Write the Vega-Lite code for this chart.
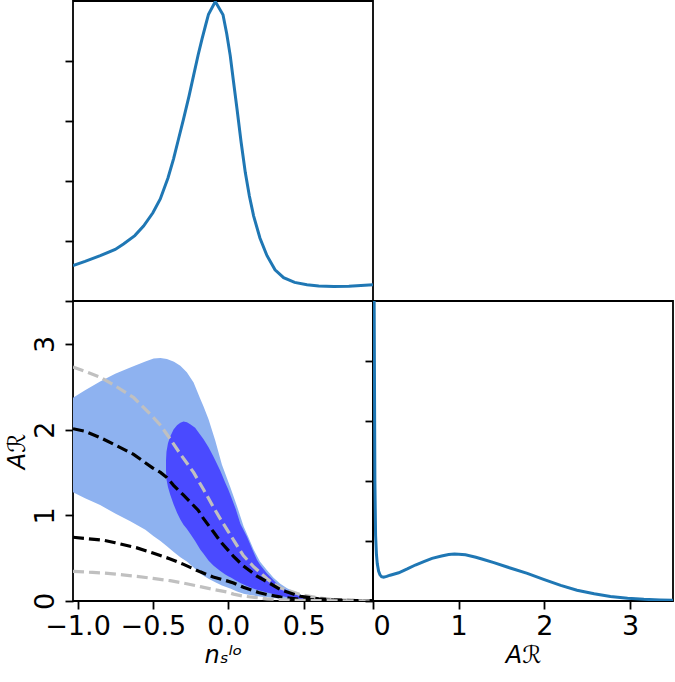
{
  "$schema": "https://vega.github.io/schema/vega-lite/v6.json",
  "padding": {"left": 4, "top": 0, "right": 0, "bottom": 0},
  "background": "white",
  "config": {
    "font": "DejaVu Sans",
    "view": {"stroke": "black", "strokeWidth": 1.8},
    "axis": {
      "domain": false, "grid": false,
      "tickColor": "black", "tickWidth": 1.8, "tickSize": 8,
      "labelFontSize": 27, "labelColor": "black", "labelFont": "DejaVu Sans",
      "titleFontSize": 24, "titleFontWeight": "normal", "titleColor": "black", "titleFont": "DejaVu Sans"
    }
  },
  "datasets": {
    "top": [
      {"n": -1.03, "p": 0.59}, {"n": -0.95, "p": 0.66}, {"n": -0.849, "p": 0.755}, {"n": -0.75, "p": 0.86},
      {"n": -0.695, "p": 0.95}, {"n": -0.62, "p": 1.09}, {"n": -0.562, "p": 1.25}, {"n": -0.5, "p": 1.47},
      {"n": -0.451, "p": 1.7}, {"n": -0.4, "p": 2.05}, {"n": -0.363, "p": 2.37}, {"n": -0.33, "p": 2.7},
      {"n": -0.297, "p": 3.03}, {"n": -0.26, "p": 3.42}, {"n": -0.23, "p": 3.76}, {"n": -0.2, "p": 4.1},
      {"n": -0.174, "p": 4.37}, {"n": -0.15, "p": 4.6}, {"n": -0.131, "p": 4.78}, {"n": -0.086, "p": 4.99},
      {"n": -0.035, "p": 4.77}, {"n": -0.01, "p": 4.45}, {"n": 0.013, "p": 4.09}, {"n": 0.035, "p": 3.65},
      {"n": 0.058, "p": 3.2}, {"n": 0.085, "p": 2.65}, {"n": 0.113, "p": 2.14}, {"n": 0.14, "p": 1.75},
      {"n": 0.168, "p": 1.42}, {"n": 0.21, "p": 1.05}, {"n": 0.257, "p": 0.755}, {"n": 0.31, "p": 0.52},
      {"n": 0.367, "p": 0.39}, {"n": 0.44, "p": 0.31}, {"n": 0.522, "p": 0.27}, {"n": 0.6, "p": 0.25},
      {"n": 0.699, "p": 0.24}, {"n": 0.8, "p": 0.245}, {"n": 0.96, "p": 0.27}
    ],
    "outer": [
      {"n": -1.03, "lo": 1.27, "hi": 2.37}, {"n": -0.95, "lo": 1.2, "hi": 2.46}, {"n": -0.85, "lo": 1.12, "hi": 2.56},
      {"n": -0.75, "lo": 1.02, "hi": 2.65}, {"n": -0.65, "lo": 0.93, "hi": 2.725}, {"n": -0.55, "lo": 0.83, "hi": 2.795},
      {"n": -0.495, "lo": 0.756, "hi": 2.83}, {"n": -0.45, "lo": 0.7, "hi": 2.835}, {"n": -0.407, "lo": 0.64, "hi": 2.822},
      {"n": -0.36, "lo": 0.57, "hi": 2.79}, {"n": -0.318, "lo": 0.51, "hi": 2.744}, {"n": -0.275, "lo": 0.46, "hi": 2.67},
      {"n": -0.23, "lo": 0.39, "hi": 2.55}, {"n": -0.186, "lo": 0.32, "hi": 2.36}, {"n": -0.164, "lo": 0.295, "hi": 2.27},
      {"n": -0.131, "lo": 0.26, "hi": 2.12}, {"n": -0.086, "lo": 0.22, "hi": 1.87}, {"n": -0.042, "lo": 0.18, "hi": 1.59},
      {"n": 0.013, "lo": 0.145, "hi": 1.33}, {"n": 0.058, "lo": 0.11, "hi": 1.106}, {"n": 0.102, "lo": 0.085, "hi": 0.87},
      {"n": 0.135, "lo": 0.072, "hi": 0.737}, {"n": 0.168, "lo": 0.063, "hi": 0.6}, {"n": 0.21, "lo": 0.053, "hi": 0.46},
      {"n": 0.257, "lo": 0.045, "hi": 0.36}, {"n": 0.3, "lo": 0.035, "hi": 0.27}, {"n": 0.345, "lo": 0.025, "hi": 0.2},
      {"n": 0.39, "lo": 0.017, "hi": 0.15}, {"n": 0.456, "lo": 0.009, "hi": 0.094}, {"n": 0.5, "lo": 0.005, "hi": 0.06},
      {"n": 0.544, "lo": 0.003, "hi": 0.035}, {"n": 0.59, "lo": 0.001, "hi": 0.015}, {"n": 0.63, "lo": 0.0, "hi": 0.003}
    ],
    "inner": [
      {"n": -0.413, "lo": 1.52, "hi": 1.64}, {"n": -0.41, "lo": 1.42, "hi": 1.74}, {"n": -0.4, "lo": 1.33, "hi": 1.84},
      {"n": -0.385, "lo": 1.24, "hi": 1.92}, {"n": -0.363, "lo": 1.13, "hi": 2.0}, {"n": -0.34, "lo": 1.03, "hi": 2.05},
      {"n": -0.318, "lo": 0.95, "hi": 2.08}, {"n": -0.297, "lo": 0.89, "hi": 2.093}, {"n": -0.274, "lo": 0.84, "hi": 2.085},
      {"n": -0.25, "lo": 0.78, "hi": 2.06}, {"n": -0.22, "lo": 0.7, "hi": 2.02}, {"n": -0.186, "lo": 0.6, "hi": 1.94},
      {"n": -0.164, "lo": 0.55, "hi": 1.887}, {"n": -0.13, "lo": 0.47, "hi": 1.79}, {"n": -0.097, "lo": 0.41, "hi": 1.68},
      {"n": -0.053, "lo": 0.35, "hi": 1.52}, {"n": -0.02, "lo": 0.31, "hi": 1.38}, {"n": 0.0, "lo": 0.29, "hi": 1.3},
      {"n": 0.02, "lo": 0.27, "hi": 1.21}, {"n": 0.05, "lo": 0.24, "hi": 1.07}, {"n": 0.08, "lo": 0.21, "hi": 0.9},
      {"n": 0.124, "lo": 0.175, "hi": 0.75}, {"n": 0.16, "lo": 0.15, "hi": 0.6}, {"n": 0.19, "lo": 0.13, "hi": 0.48},
      {"n": 0.212, "lo": 0.12, "hi": 0.42}, {"n": 0.257, "lo": 0.1, "hi": 0.32}, {"n": 0.323, "lo": 0.07, "hi": 0.2},
      {"n": 0.39, "lo": 0.045, "hi": 0.12}, {"n": 0.456, "lo": 0.025, "hi": 0.07}, {"n": 0.5, "lo": 0.015, "hi": 0.045},
      {"n": 0.544, "lo": 0.008, "hi": 0.022}, {"n": 0.58, "lo": 0.004, "hi": 0.006}
    ],
    "curves": [
      {"c": "gray_hi", "n": -1.03, "A": 2.73}, {"c": "gray_hi", "n": -0.95, "A": 2.68}, {"c": "gray_hi", "n": -0.849, "A": 2.61},
      {"c": "gray_hi", "n": -0.75, "A": 2.51}, {"c": "gray_hi", "n": -0.628, "A": 2.374}, {"c": "gray_hi", "n": -0.517, "A": 2.18},
      {"c": "gray_hi", "n": -0.45, "A": 2.05}, {"c": "gray_hi", "n": -0.385, "A": 1.89}, {"c": "gray_hi", "n": -0.32, "A": 1.72},
      {"c": "gray_hi", "n": -0.23, "A": 1.5}, {"c": "gray_hi", "n": -0.164, "A": 1.3}, {"c": "gray_hi", "n": -0.1, "A": 1.1},
      {"c": "gray_hi", "n": -0.05, "A": 0.95}, {"c": "gray_hi", "n": 0.0, "A": 0.81}, {"c": "gray_hi", "n": 0.05, "A": 0.67},
      {"c": "gray_hi", "n": 0.1, "A": 0.53}, {"c": "gray_hi", "n": 0.168, "A": 0.4}, {"c": "gray_hi", "n": 0.257, "A": 0.26},
      {"c": "gray_hi", "n": 0.3, "A": 0.2}, {"c": "gray_hi", "n": 0.35, "A": 0.15}, {"c": "gray_hi", "n": 0.478, "A": 0.075},
      {"c": "gray_hi", "n": 0.6, "A": 0.035}, {"c": "gray_hi", "n": 0.7, "A": 0.015}, {"c": "gray_hi", "n": 0.85, "A": 0.005},
      {"c": "gray_hi", "n": 0.96, "A": 0.002},
      {"c": "black_hi", "n": -1.03, "A": 2.01}, {"c": "black_hi", "n": -0.95, "A": 1.98}, {"c": "black_hi", "n": -0.849, "A": 1.906},
      {"c": "black_hi", "n": -0.75, "A": 1.82}, {"c": "black_hi", "n": -0.628, "A": 1.711}, {"c": "black_hi", "n": -0.5, "A": 1.55},
      {"c": "black_hi", "n": -0.45, "A": 1.5}, {"c": "black_hi", "n": -0.407, "A": 1.44}, {"c": "black_hi", "n": -0.363, "A": 1.35},
      {"c": "black_hi", "n": -0.3, "A": 1.24}, {"c": "black_hi", "n": -0.25, "A": 1.15}, {"c": "black_hi", "n": -0.2, "A": 1.06},
      {"c": "black_hi", "n": -0.164, "A": 0.96}, {"c": "black_hi", "n": -0.1, "A": 0.81}, {"c": "black_hi", "n": -0.05, "A": 0.69},
      {"c": "black_hi", "n": 0.0, "A": 0.59}, {"c": "black_hi", "n": 0.035, "A": 0.52}, {"c": "black_hi", "n": 0.1, "A": 0.41},
      {"c": "black_hi", "n": 0.19, "A": 0.29}, {"c": "black_hi", "n": 0.257, "A": 0.225}, {"c": "black_hi", "n": 0.35, "A": 0.13},
      {"c": "black_hi", "n": 0.478, "A": 0.055}, {"c": "black_hi", "n": 0.6, "A": 0.025}, {"c": "black_hi", "n": 0.7, "A": 0.012},
      {"c": "black_hi", "n": 0.85, "A": 0.004}, {"c": "black_hi", "n": 0.96, "A": 0.002},
      {"c": "black_lo", "n": -1.03, "A": 0.744}, {"c": "black_lo", "n": -0.95, "A": 0.73}, {"c": "black_lo", "n": -0.827, "A": 0.709},
      {"c": "black_lo", "n": -0.75, "A": 0.68}, {"c": "black_lo", "n": -0.606, "A": 0.62}, {"c": "black_lo", "n": -0.5, "A": 0.56},
      {"c": "black_lo", "n": -0.385, "A": 0.491}, {"c": "black_lo", "n": -0.3, "A": 0.43}, {"c": "black_lo", "n": -0.186, "A": 0.34},
      {"c": "black_lo", "n": -0.1, "A": 0.28}, {"c": "black_lo", "n": -0.009, "A": 0.235}, {"c": "black_lo", "n": 0.035, "A": 0.21},
      {"c": "black_lo", "n": 0.1, "A": 0.16}, {"c": "black_lo", "n": 0.2, "A": 0.1}, {"c": "black_lo", "n": 0.257, "A": 0.075},
      {"c": "black_lo", "n": 0.35, "A": 0.045}, {"c": "black_lo", "n": 0.478, "A": 0.02}, {"c": "black_lo", "n": 0.6, "A": 0.01},
      {"c": "black_lo", "n": 0.75, "A": 0.004}, {"c": "black_lo", "n": 0.96, "A": 0.001},
      {"c": "gray_lo", "n": -1.03, "A": 0.346}, {"c": "gray_lo", "n": -0.9, "A": 0.333}, {"c": "gray_lo", "n": -0.827, "A": 0.327},
      {"c": "gray_lo", "n": -0.7, "A": 0.305}, {"c": "gray_lo", "n": -0.606, "A": 0.288}, {"c": "gray_lo", "n": -0.5, "A": 0.263},
      {"c": "gray_lo", "n": -0.385, "A": 0.237}, {"c": "gray_lo", "n": -0.3, "A": 0.21}, {"c": "gray_lo", "n": -0.186, "A": 0.168},
      {"c": "gray_lo", "n": -0.1, "A": 0.135}, {"c": "gray_lo", "n": -0.009, "A": 0.105}, {"c": "gray_lo", "n": 0.035, "A": 0.08},
      {"c": "gray_lo", "n": 0.1, "A": 0.057}, {"c": "gray_lo", "n": 0.257, "A": 0.025}, {"c": "gray_lo", "n": 0.4, "A": 0.01},
      {"c": "gray_lo", "n": 0.6, "A": 0.004}, {"c": "gray_lo", "n": 0.96, "A": 0.001}
    ],
    "right": [
      {"A": 0.0, "p": 8}, {"A": 0.012, "p": 5.5}, {"A": 0.022, "p": 2.0}, {"A": 0.03, "p": 1.1}, {"A": 0.04, "p": 0.78},
      {"A": 0.05, "p": 0.62}, {"A": 0.065, "p": 0.5}, {"A": 0.08, "p": 0.44}, {"A": 0.1, "p": 0.405}, {"A": 0.124, "p": 0.395},
      {"A": 0.16, "p": 0.41}, {"A": 0.2, "p": 0.43}, {"A": 0.3, "p": 0.47}, {"A": 0.4, "p": 0.535}, {"A": 0.494, "p": 0.6},
      {"A": 0.6, "p": 0.66}, {"A": 0.689, "p": 0.71}, {"A": 0.8, "p": 0.75}, {"A": 0.883, "p": 0.775}, {"A": 0.95, "p": 0.785},
      {"A": 1.0, "p": 0.78}, {"A": 1.078, "p": 0.77}, {"A": 1.2, "p": 0.73}, {"A": 1.27, "p": 0.7}, {"A": 1.41, "p": 0.64},
      {"A": 1.6, "p": 0.55}, {"A": 1.8, "p": 0.46}, {"A": 1.99, "p": 0.36}, {"A": 2.19, "p": 0.26}, {"A": 2.38, "p": 0.18},
      {"A": 2.58, "p": 0.12}, {"A": 2.77, "p": 0.075}, {"A": 2.97, "p": 0.045}, {"A": 3.16, "p": 0.028}, {"A": 3.35, "p": 0.018},
      {"A": 3.5, "p": 0.013}
    ]
  },
  "columns": 2,
  "spacing": 0,
  "align": "all",
  "bounds": "flush",
  "concat": [
    {
      "width": 300, "height": 300,
      "data": {"name": "top"},
      "mark": {"type": "line", "color": "#1f77b4", "strokeWidth": 3, "clip": true},
      "encoding": {
        "x": {"field": "n", "type": "quantitative", "scale": {"domain": [-1.03, 0.96], "nice": false, "zero": false}, "axis": null},
        "y": {"field": "p", "type": "quantitative", "scale": {"domain": [0, 5], "nice": false}, "axis": {"values": [0, 1, 2, 3, 4], "labels": false, "title": null}}
      }
    },
    {
      "width": 300, "height": 300,
      "view": {"stroke": null},
      "data": {"values": [{"v": 0}]},
      "mark": {"type": "text", "text": ""},
      "encoding": {}
    },
    {
      "width": 300, "height": 300,
      "layer": [
        {
          "data": {"name": "outer"},
          "mark": {"type": "area", "color": "#8eb2f0", "opacity": 1, "clip": true},
          "encoding": {
            "x": {"field": "n", "type": "quantitative", "scale": {"domain": [-1.03, 0.96], "nice": false, "zero": false},
                  "axis": {"values": [-1, -0.5, 0, 0.5], "format": ".1f", "title": "nₛˡᵒ", "titleFontStyle": "italic", "labelPadding": 4, "titlePadding": 4}},
            "y": {"field": "lo", "type": "quantitative", "scale": {"domain": [0, 3.5], "nice": false},
                  "axis": {"values": [0, 1, 2, 3], "format": "d", "labelAngle": 270, "labelAlign": "center", "labelBaseline": "bottom", "labelPadding": 6, "title": "Aℛ", "titleFontStyle": "italic", "titlePadding": 2}},
            "y2": {"field": "hi"}
          }
        },
        {
          "data": {"name": "inner"},
          "mark": {"type": "area", "color": "#4a4aff", "opacity": 1, "clip": true},
          "encoding": {
            "x": {"field": "n", "type": "quantitative"},
            "y": {"field": "lo", "type": "quantitative"},
            "y2": {"field": "hi"}
          }
        },
        {
          "data": {"name": "curves"},
          "mark": {"type": "line", "strokeWidth": 3.2, "strokeDash": [11, 5], "clip": true},
          "encoding": {
            "x": {"field": "n", "type": "quantitative"},
            "y": {"field": "A", "type": "quantitative"},
            "color": {"field": "c", "type": "nominal", "scale": {"domain": ["gray_hi", "black_hi", "black_lo", "gray_lo"], "range": ["#c0c0c0", "#000000", "#000000", "#c0c0c0"]}, "legend": null}
          }
        }
      ]
    },
    {
      "width": 300, "height": 300,
      "data": {"name": "right"},
      "mark": {"type": "line", "color": "#1f77b4", "strokeWidth": 3, "clip": true},
      "encoding": {
        "x": {"field": "A", "type": "quantitative", "scale": {"domain": [0, 3.5], "nice": false},
              "axis": {"values": [0, 1, 2, 3], "format": "d", "title": "Aℛ", "titleFontStyle": "italic", "labelPadding": 4, "titlePadding": 4}},
        "y": {"field": "p", "type": "quantitative", "scale": {"domain": [0, 5], "nice": false},
              "axis": {"values": [0, 1, 2, 3, 4], "labels": false, "title": null}}
      }
    }
  ]
}
